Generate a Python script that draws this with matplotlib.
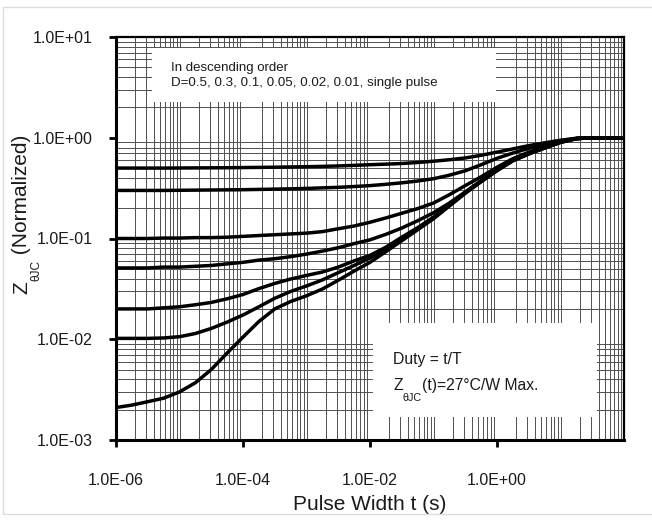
import matplotlib
matplotlib.use("Agg")
import matplotlib.pyplot as plt
from matplotlib.ticker import LogLocator, NullFormatter
from matplotlib.patches import Rectangle
import numpy as np

plt.rcParams['font.family'] = ['Liberation Sans', 'DejaVu Sans']

# ---- data ----
log_t = [-6, -5.75, -5.5, -5.25, -5, -4.75, -4.5, -4.25, -4, -3.75, -3.5, -3.25,
         -3, -2.75, -2.5, -2.25, -2, -1.75, -1.5, -1.25, -1, -0.75, -0.5, -0.25,
         0, 0.25, 0.5, 0.75, 1, 1.25, 1.5, 1.75, 2]
pulse_width = [10.0 ** v for v in log_t]

z_d050 = [0.500, 0.500, 0.500, 0.500, 0.501, 0.502, 0.503, 0.504, 0.506, 0.508, 0.510, 0.513,
          0.516, 0.520, 0.525, 0.532, 0.540, 0.547, 0.555, 0.568, 0.585, 0.605, 0.630, 0.670,
          0.720, 0.775, 0.835, 0.890, 0.945, 0.988, 1.0, 1.0, 1.0]
z_d030 = [0.300, 0.300, 0.300, 0.300, 0.301, 0.302, 0.303, 0.304, 0.305, 0.307, 0.309, 0.311,
          0.314, 0.318, 0.322, 0.328, 0.335, 0.345, 0.357, 0.372, 0.392, 0.425, 0.470, 0.540,
          0.625, 0.705, 0.785, 0.860, 0.930, 0.984, 1.0, 1.0, 1.0]
z_d010 = [0.100, 0.100, 0.100, 0.101, 0.101, 0.102, 0.102, 0.103, 0.105, 0.107, 0.109, 0.111,
          0.113, 0.117, 0.125, 0.133, 0.145, 0.160, 0.178, 0.198, 0.225, 0.272, 0.335, 0.410,
          0.510, 0.620, 0.720, 0.820, 0.912, 0.982, 1.0, 1.0, 1.0]
z_d005 = [0.051, 0.051, 0.051, 0.052, 0.052, 0.053, 0.054, 0.056, 0.058, 0.061, 0.063, 0.066,
          0.070, 0.075, 0.081, 0.089, 0.097, 0.110, 0.127, 0.150, 0.180, 0.225, 0.290, 0.375,
          0.482, 0.600, 0.700, 0.800, 0.905, 0.980, 1.0, 1.0, 1.0]
z_d002 = [0.0200, 0.0200, 0.0200, 0.0205, 0.0210, 0.0220, 0.0232, 0.0252, 0.0278, 0.0318, 0.0358, 0.0396,
          0.0430, 0.0465, 0.0520, 0.0600, 0.0680, 0.0820, 0.1030, 0.1280, 0.1630, 0.2150, 0.2850, 0.3700,
          0.4750, 0.5950, 0.6950, 0.7950, 0.9020, 0.9800, 1.0, 1.0, 1.0]
z_d001 = [0.0102, 0.0102, 0.0102, 0.0103, 0.0106, 0.0114, 0.0128, 0.0148, 0.0174, 0.0210, 0.0255, 0.0298,
          0.0338, 0.0388, 0.0458, 0.0540, 0.0640, 0.0780, 0.0990, 0.1250, 0.1600, 0.2120, 0.2830, 0.3680,
          0.4730, 0.5930, 0.6930, 0.7930, 0.9010, 0.9800, 1.0, 1.0, 1.0]
z_single = [0.0021, 0.00222, 0.0024, 0.0026, 0.0030, 0.0037, 0.0050, 0.0073, 0.0105, 0.0150, 0.0200, 0.0237,
            0.0270, 0.0315, 0.0385, 0.0475, 0.0580, 0.0740, 0.0950, 0.1220, 0.1570, 0.2100, 0.2810, 0.3660,
            0.4710, 0.5900, 0.6900, 0.7900, 0.9000, 0.9800, 1.0, 1.0, 1.0]

series = [z_d050, z_d030, z_d010, z_d005, z_d002, z_d001, z_single]

x_ticks = [1e-6, 1e-4, 1e-2, 1e0]
x_tick_labels = ["1.0E-06", "1.0E-04", "1.0E-02", "1.0E+00"]
y_ticks = [1e-3, 1e-2, 1e-1, 1e0, 1e1]
y_tick_labels = ["1.0E-03", "1.0E-02", "1.0E-01", "1.0E+00", "1.0E+01"]

TXT = '#1a1a1a'

# ---- figure ----
fig = plt.figure(figsize=(6.52, 5.2), dpi=100)
fig.patches.append(Rectangle((3 / 652, 6 / 520), 1.0, 507 / 520, transform=fig.transFigure,
                             fill=False, edgecolor='#dcdcdc', linewidth=1.0, zorder=0))
ax = fig.add_axes([116 / 652, 1 - 440 / 520, 508 / 652, 403 / 520])
ax.set_xscale('log')
ax.set_yscale('log')
ax.set_xlim(1e-6, 1e2)
ax.set_ylim(1e-3, 1e1)

ax.xaxis.set_minor_locator(LogLocator(base=10, subs=np.arange(1, 10), numticks=100))
ax.yaxis.set_minor_locator(LogLocator(base=10, subs=np.arange(1, 10), numticks=100))
ax.xaxis.set_minor_formatter(NullFormatter())
ax.yaxis.set_minor_formatter(NullFormatter())
ax.grid(which='minor', color='#505050', linewidth=0.7, zorder=0)
ax.tick_params(which='minor', length=0)

ax.set_xticks(x_ticks)
ax.set_xticklabels(x_tick_labels)
ax.set_yticks(y_ticks)
ax.set_yticklabels(y_tick_labels)
ax.tick_params(axis='x', which='major', direction='out', length=5, width=2, pad=19,
               labelsize=11.5, labelcolor=TXT)
ax.tick_params(axis='y', which='major', direction='out', length=5, width=2, pad=12,
               labelsize=11.5, labelcolor=TXT)

for s in ['left', 'bottom']:
    ax.spines[s].set_linewidth(2.2)
for s in ['top', 'right']:
    ax.spines[s].set_linewidth(1.6)

for z in series:
    ax.plot(pulse_width, z, color='black', linewidth=2.5, solid_capstyle='butt',
            solid_joinstyle='round', zorder=4)

# white annotation boxes
ax.add_patch(Rectangle((0.071, 0.839), 0.677, 0.134, transform=ax.transAxes,
                       facecolor='white', edgecolor='none', zorder=2))
ax.add_patch(Rectangle((0.506, 0.057), 0.441, 0.233, transform=ax.transAxes,
                       facecolor='white', edgecolor='none', zorder=2))

ax.text(0.108, 0.923, "In descending order", transform=ax.transAxes, fontsize=9.5,
        va='center', ha='left', color=TXT, zorder=5)
ax.text(0.108, 0.886, "D=0.5, 0.3, 0.1, 0.05, 0.02, 0.01, single pulse", transform=ax.transAxes,
        fontsize=9.6, va='center', ha='left', color=TXT, zorder=5)
ax.text(0.545, 0.199, "Duty = t/T", transform=ax.transAxes, fontsize=11.3,
        va='center', ha='left', color=TXT, zorder=5)

ax.set_xlabel("Pulse Width t (s)", fontsize=15, labelpad=5, color=TXT)

renderer = fig.canvas.get_renderer()


def chained_text(parts, x_px, y_px, rotation=0):
    """parts: list of (string, fontsize, drop_px). Positions in display pixels (origin bottom-left)."""
    pos = x_px if rotation == 0 else y_px
    for s, fs, drop in parts:
        if rotation == 0:
            t = fig.text(pos / 652, (y_px - drop) / 520, s, fontsize=fs, color=TXT,
                         ha='left', va='baseline', zorder=6)
            bb = t.get_window_extent(renderer)
            pos = bb.x1
        else:
            t = fig.text((x_px + drop) / 652, pos / 520, s, fontsize=fs, color=TXT,
                         rotation=90, rotation_mode='anchor', ha='left', va='baseline', zorder=6)
            bb = t.get_window_extent(renderer)
            pos = bb.y1


# annotation with subscript: Z_thetaJC(t)=27°C/W Max.
chained_text([("Z", 11.3, 0), ("\u03b8JC", 7.8, 11), ("(t)=27°C/W Max.", 11.3, 0)],
             393, 520 - 390)
# y-axis label, rotated
chained_text([("Z", 15, 0), ("\u03b8JC", 8.5, 12), (" (Normalized)", 15, 0)],
             27, 520 - 294, rotation=90)

fig.savefig("out.png", dpi=100)
